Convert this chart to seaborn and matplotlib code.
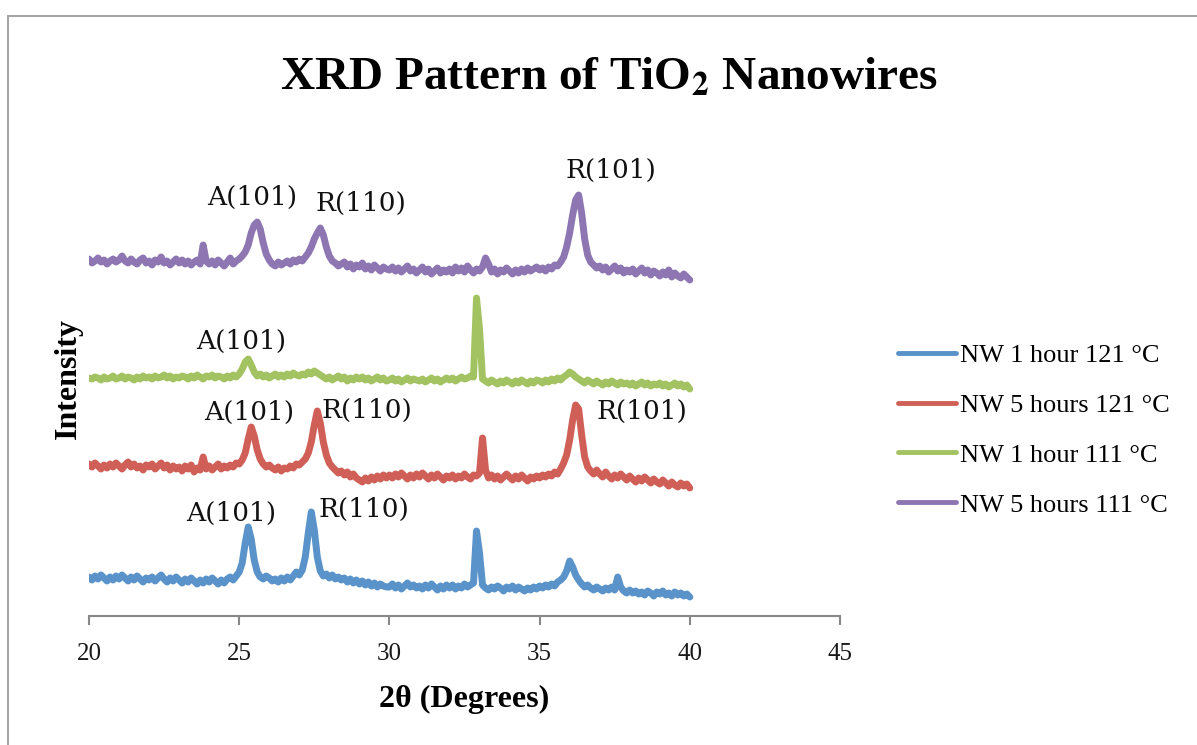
import numpy as np
import pandas as pd
import seaborn as sns
import matplotlib.pyplot as plt
from matplotlib.lines import Line2D
from matplotlib.patches import Rectangle

# 2-theta grid, 20 to 40 deg in 0.1 steps
two_theta = np.round(np.arange(200, 401) / 10, 1)

series_names = ["NW 1 hour 121 °C", "NW 5 hours 121 °C", "NW 1 hour 111 °C", "NW 5 hours 111 °C"]
series_colors = ["#5A92CA", "#CF5F57", "#A3C363", "#8D76B2"]

# intensities (a.u., already stacked with offsets as in the figure)
nw_1h_121 = [
    28, 25, 29, 26, 30, 27, 24, 28, 25, 29,
    26, 30, 27, 24, 28, 25, 29, 26, 23, 27,
    25, 28, 24, 27, 30, 26, 23, 27, 24, 28,
    25, 22, 26, 23, 27, 24, 21, 25, 22, 26,
    23, 27, 24, 21, 25, 22, 26, 28, 25, 29,
    33, 42, 62, 78, 66, 45, 33, 28, 26, 29,
    27, 24, 26, 23, 27, 24, 28, 25, 29, 33,
    30, 35, 48, 72, 93, 75, 48, 34, 29, 31,
    27, 30, 26, 28, 25, 27, 23, 26, 22, 25,
    21, 24, 20, 23, 19, 22, 18, 21, 19, 18,
    18, 21, 17, 20, 16, 19, 22, 18, 20, 17,
    19, 16, 20, 17, 21, 18, 15, 19, 16, 20,
    17, 20, 16, 19, 17, 21, 18, 20, 22, 74,
    52, 20, 17, 15, 18, 16, 19, 17, 14, 18,
    16, 19, 15, 18, 16, 14, 17, 15, 18, 16,
    19, 17, 20, 18, 21, 19, 23, 25, 28, 34,
    44, 38, 30, 25, 21, 18, 20, 17, 15, 18,
    16, 14, 17, 15, 18, 15, 28, 18, 14, 12,
    15, 12, 14, 11, 13, 10, 14, 12, 9, 13,
    11, 14, 10, 12, 9, 13, 10, 12, 9, 11,
    8,
]
nw_5h_121 = [
    141, 138, 142, 139, 136, 140, 137, 141, 138, 142,
    139, 136, 140, 143, 138, 141, 137, 139, 135, 140,
    138, 141, 136, 139, 142, 137, 140, 135, 139, 136,
    138, 134, 139, 136, 140, 133, 137, 135, 148, 136,
    139, 135, 138, 141, 136, 139, 137, 140, 138, 142,
    141, 145, 152, 166, 178, 169, 155, 146, 141, 138,
    140, 137, 135, 138, 134, 137, 136, 139, 137, 141,
    140, 143, 146, 152, 163, 180, 194, 182, 163, 150,
    142, 138, 135, 132, 134, 130, 133, 128, 131, 127,
    125, 123, 127, 124, 128, 125, 129, 126, 130, 127,
    130, 127, 131, 128, 132, 129, 126, 130, 127, 131,
    128, 132, 129, 126, 130, 127, 131, 128, 125, 129,
    127, 130, 126, 129, 127, 131, 128, 126, 130, 129,
    132, 167, 135, 127, 130, 126, 129, 125, 128, 131,
    128, 125, 129, 126, 130, 127, 124, 128, 126, 129,
    127, 130, 128, 131, 129, 133, 131, 136, 142, 150,
    165, 185, 200, 196, 170, 148, 138, 134, 131, 135,
    131, 128, 133, 129, 126, 130, 127, 131, 128, 125,
    129, 126, 123, 127, 124, 128, 125, 122, 126, 123,
    121, 125, 122, 119, 123, 120, 118, 122, 119, 121,
    117,
]
nw_1h_111 = [
    227, 226, 228, 227, 225, 228, 226, 227, 229, 226,
    227, 229, 226, 228, 227, 225, 228, 226, 229, 227,
    228, 226, 229, 227, 228, 230, 227, 229, 226, 228,
    227, 229, 228, 226, 229, 227, 230, 228, 226, 229,
    228, 230, 227, 229, 228, 226, 229, 227, 230, 228,
    231, 236, 243, 246, 240, 233, 229, 231, 228, 230,
    227, 229, 231, 228, 230, 228, 231, 229, 232, 230,
    229, 231, 230, 233, 231, 234, 232, 230, 228, 226,
    228, 225, 227, 229, 226, 228, 224, 227, 225, 228,
    226, 228, 225, 227, 224, 226, 228, 225, 227, 224,
    225, 227, 224, 226, 223, 225, 227, 224, 226, 225,
    224, 226, 223, 225, 227, 224, 226, 223, 225, 227,
    225, 227, 224, 226, 228, 226, 227, 229, 228, 307,
    276, 226, 224, 222, 225, 223, 221, 224, 222, 225,
    223, 221, 224, 222, 225, 223, 221, 224, 222, 225,
    224, 222, 225, 223, 226, 224, 227, 225, 228, 230,
    233, 231, 228, 226, 224, 222, 225, 223, 221, 224,
    222, 220, 223, 221, 224, 222, 220, 223, 221, 222,
    220, 222, 219, 221, 223, 220, 222, 219, 221, 220,
    222, 219, 221, 218, 220, 222, 219, 221, 218, 220,
    216,
]
nw_5h_111 = [
    346, 342, 344, 347, 343, 345, 341, 344, 346, 343,
    345, 349, 344, 342, 346, 343, 341, 345, 347, 342,
    344, 340, 345, 343, 348, 342, 344, 340, 343, 346,
    342, 345, 341, 344, 340, 343, 345, 341, 360, 344,
    341, 344, 340, 345, 342, 339, 343, 347, 341, 344,
    346, 349, 353, 360, 372, 380, 383, 376, 362, 351,
    345, 341, 339, 343, 340, 342, 344, 341, 345, 343,
    346, 344, 348, 352, 358, 366, 372, 377, 370, 358,
    349, 344, 342, 339, 341, 343, 338, 341, 336, 340,
    338, 342, 336, 339, 335, 340, 337, 334, 338, 336,
    335, 338, 334, 337, 333, 336, 339, 334, 336, 332,
    335, 338, 333, 336, 331, 334, 337, 332, 335, 333,
    336, 332, 338, 334, 337, 333, 339, 335, 332, 336,
    334, 338, 347, 341, 333, 336, 331, 335, 333, 337,
    334, 331, 335, 332, 336, 333, 337, 334, 336, 338,
    335, 337, 334, 338, 336, 340, 339, 343, 348, 358,
    372, 390, 405, 410, 392, 366, 350, 343, 340, 337,
    339, 335, 338, 333, 336, 339, 334, 337, 332, 335,
    333, 336, 331, 334, 337, 332, 335, 330, 334, 332,
    329, 333, 330, 335, 328, 332, 329, 327, 331, 328,
    325,
]

# peak labels
peak_labels = ["A(101)", "R(110)", "R(101)", "A(101)", "A(101)", "R(110)", "R(101)", "A(101)", "R(110)"]
peak_x = [25.43, 29.05, 37.38, 25.06, 25.33, 29.25, 38.41, 24.73, 29.15]
peak_y = [408, 402, 435, 264, 193, 195, 194, 92, 96]

df = pd.DataFrame({
    "two_theta": np.tile(two_theta, 4),
    "intensity": nw_1h_121 + nw_5h_121 + nw_1h_111 + nw_5h_111,
    "sample": np.repeat(series_names, len(two_theta)),
})

sns.set_theme(style="white")
plt.rcParams["font.family"] = ["Liberation Serif", "DejaVu Serif"]
plt.rcParams["mathtext.fontset"] = "stix"
plt.rcParams["text.color"] = "black"
plt.rcParams["axes.labelcolor"] = "black"

fig = plt.figure(figsize=(11.97, 7.45), dpi=100)
ax = fig.add_axes([89 / 1197, 129 / 745, 751 / 1197, 466 / 745])

palette = dict(zip(series_names, series_colors))
sns.lineplot(data=df, x="two_theta", y="intensity", hue="sample", hue_order=series_names,
             palette=palette, estimator=None, sort=False, linewidth=5, legend=False, ax=ax)

for lab, px, py in zip(peak_labels, peak_x, peak_y):
    ax.text(px, py, lab, ha="center", va="center", fontsize=19, family="DejaVu Serif", color="#111111")

ax.set_xlim(20, 45)
ax.set_ylim(-11, 455)
ax.set_xticks([20, 25, 30, 35, 40, 45])
ax.set_yticks([])
for s in ["left", "right", "top"]:
    ax.spines[s].set_visible(False)
ax.spines["bottom"].set_color("#888888")
ax.spines["bottom"].set_linewidth(1.5)
ax.tick_params(axis="x", direction="out", length=6.5, width=1.5, color="#888888",
               labelsize=18, labelcolor="#1a1a1a", pad=13, bottom=True)

ax.set_xlabel("2θ (Degrees)", fontsize=23, fontweight="bold", labelpad=14)
ax.set_ylabel("Intensity", fontsize=23, fontweight="bold", va="center")
ax.yaxis.set_label_coords(-21 / 751, 0.51)

fig.text(609 / 1197, 1 - 90 / 745, r"XRD Pattern of TiO$_\mathbf{2}$ Nanowires",
         ha="center", va="baseline", fontsize=34, fontweight="bold")

handles = [Line2D([], [], color=c, lw=3.5, solid_capstyle="round") for c in series_colors]
fig.legend(handles, series_names, loc="center left", bbox_to_anchor=(898 / 1197, 1 - 430 / 745),
           frameon=False, fontsize=19, handlelength=2.2, handletextpad=0.15,
           labelspacing=1.0, borderpad=0, borderaxespad=0)

# outer chart border
fig.patches.append(Rectangle((8 / 1197, -0.1), 1.2, 1.1 - 16 / 745, transform=fig.transFigure,
                             fill=False, edgecolor="#a6a6a6", linewidth=1.5))

fig.savefig("out.png", dpi=100)
